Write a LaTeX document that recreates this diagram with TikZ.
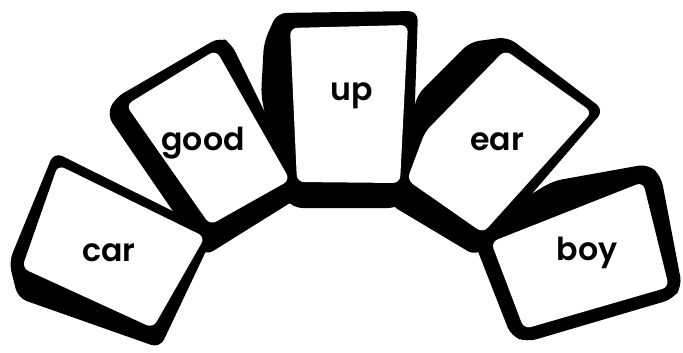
\documentclass[tikz,border=0pt]{standalone}
\usepackage{fontspec}
\setmainfont{Poppins}[BoldFont={Poppins SemiBold}]
\usepackage{tikz}
\tikzset{
  cardback/.style ={fill=black, rounded corners=8pt},
  cardface/.style ={fill=white, rounded corners=6pt},
  word/.style     ={font=\fontsize{27}{30}\selectfont\bfseries, anchor=base,
                    inner sep=0pt}
}

\begin{document}
\begin{tikzpicture}[x=0.03cm, y=-0.03cm]
  \useasboundingbox (0,0) rectangle (683,352);

  % Black card bodies
  \fill[cardback] (54,152) -- (215,232) -- (160,348) -- (18,298) -- (9,262) -- cycle;
  \fill[cardback] (115,98) -- (220,37) -- (231,43) -- (299,182) -- (298,198)
                  -- (205,256) -- (190,236) -- (107,115) -- cycle;
  \fill[cardback] (277,13) -- (418,11) -- (412,192) -- (398,208) -- (293,208)
                  -- (282,195) -- (261,95) -- (264,42) -- cycle;
  \fill[cardback] (470,42) -- (508,37) -- (604,110) -- (487,246) -- (476,256)
                  -- (389,204) -- (399,180) -- (417,95) -- cycle;
  \fill[cardback] (470,231) -- (553,181) -- (648,164) -- (661,176) -- (682,286)
                  -- (673,299) -- (527,342) -- (511,336) -- cycle;

  % White card faces
  \fill[cardface] (58,165) -- (205,237) -- (153,328) -- (22,268) -- cycle;
  \fill[cardface] (126,105) -- (216,50) -- (290,180) -- (210,225) -- cycle;
  \fill[cardface] (290,28) -- (408,25) -- (400,183) -- (297,182) -- cycle;
  \fill[cardface] (505,50) -- (592,112) -- (483,233) -- (407,180) -- (425,132) -- cycle;
  \fill[cardface] (491,242) -- (643,182) -- (669,287) -- (524,329) -- cycle;

  % Words
  \node[word] (car)  at (109,261) {car};
  \node[word] (good) at (203,150) {good};
  \node[word] (up)   at (352,100) {up};
  \node[word] (ear)  at (497,150) {ear};
  \node[word] (boy)  at (587,260) {boy};
\end{tikzpicture}
\end{document}
